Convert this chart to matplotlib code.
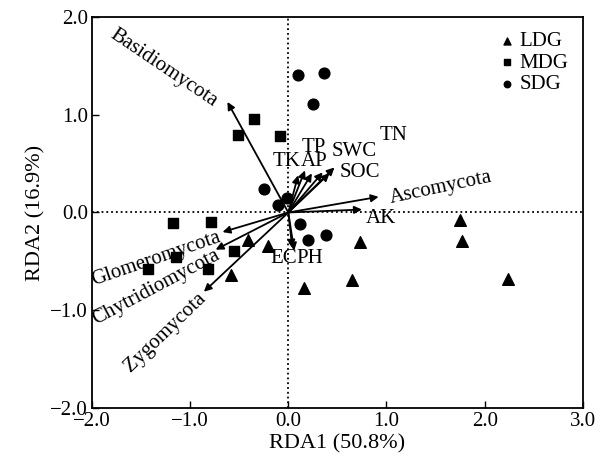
import matplotlib.pyplot as plt
import numpy as np

plt.rcParams['font.family'] = ['Liberation Serif', 'DejaVu Serif']

# sample scores
ldg_x = [-0.41, -0.21, -0.58, 0.16, 0.65, 0.73, 1.75, 1.77, 2.24]
ldg_y = [-0.28, -0.34, -0.64, -0.77, -0.69, -0.30, -0.08, -0.29, -0.68]
mdg_x = [-0.51, -0.35, -0.08, -1.17, -0.79, -1.14, -0.55, -1.43, -0.82]
mdg_y = [0.79, 0.96, 0.78, -0.11, -0.10, -0.46, -0.39, -0.58, -0.58]
sdg_x = [0.10, 0.36, 0.25, -0.25, -0.11, -0.01, 0.12, 0.20, 0.38]
sdg_y = [1.41, 1.43, 1.11, 0.24, 0.08, 0.15, -0.12, -0.28, -0.23]

# arrows (phyla + soil properties)
arrow_names = ['Basidiomycota', 'Ascomycota', 'AK', 'Glomeromycota', 'Chytridiomycota',
               'Zygomycota', 'EC', 'PH', 'TK', 'TP', 'AP', 'SWC', 'SOC', 'TN']
arrow_x = [-0.62, 0.92, 0.75, -0.67, -0.74, -0.86, 0.04, 0.06, 0.10, 0.17, 0.24, 0.35, 0.47, 0.42]
arrow_y = [1.13, 0.16, 0.03, -0.20, -0.38, -0.81, -0.36, -0.39, 0.38, 0.43, 0.40, 0.41, 0.46, 0.40]

# label placement
label_x = [-1.27, 1.55, 0.94, -1.35, -1.35, -1.25, 0.085, 0.085, 0.125, 0.26, 0.125, 0.67, 0.73, 1.07]
label_y = [1.48, 0.25, -0.06, -0.47, -0.77, -1.23, -0.47, -0.47, 0.52, 0.66, 0.52, 0.62, 0.41, 0.79]
label_rot = [-34, 12, 0, 19, 28, 44, 0, 0, 0, 0, 0, 0, 0, 0]
label_ha = ['center', 'center', 'center', 'center', 'center', 'center', 'right', 'left',
            'right', 'center', 'left', 'center', 'center', 'center']

fig, ax = plt.subplots(figsize=(6.09, 4.67), dpi=100)
fig.subplots_adjust(left=0.151, right=0.957, bottom=0.126, top=0.964)

ax.axhline(0, color='k', ls=':', lw=1.3, zorder=1)
ax.axvline(0, color='k', ls=':', lw=1.3, zorder=1)

for name, x, y in zip(arrow_names, arrow_x, arrow_y):
    ax.annotate('', xy=(x, y), xytext=(0, 0),
                arrowprops=dict(arrowstyle='-|>', color='k', lw=1.3,
                                mutation_scale=11, shrinkA=0, shrinkB=0))

for name, x, y, r, ha in zip(arrow_names, label_x, label_y, label_rot, label_ha):
    ax.text(x, y, name, rotation=r, fontsize=15, ha=ha, va='center',
            rotation_mode='anchor')

ax.scatter(ldg_x, ldg_y, marker='^', s=70, color='k', label='LDG', zorder=3)
ax.scatter(mdg_x, mdg_y, marker='s', s=60, color='k', label='MDG', zorder=3)
ax.scatter(sdg_x, sdg_y, marker='o', s=60, color='k', label='SDG', zorder=3)

ax.set_xlim(-2, 3)
ax.set_ylim(-2, 2)
ax.set_xticks(np.arange(-2, 3.1, 1))
ax.set_yticks(np.arange(-2, 2.1, 1))
ax.set_xticklabels(['\u22122.0', '\u22121.0', '0.0', '1.0', '2.0', '3.0'])
ax.set_yticklabels(['\u22122.0', '\u22121.0', '0.0', '1.0', '2.0'])
ax.tick_params(direction='in', length=5, width=1, labelsize=15, pad=3)
for s in ax.spines.values():
    s.set_linewidth(1.3)

ax.set_xlabel('RDA1 (50.8%)', fontsize=16, labelpad=2)
ax.set_ylabel('RDA2 (16.9%)', fontsize=16, labelpad=3)

ax.legend(loc='upper right', frameon=False, fontsize=15, markerscale=0.6,
          handletextpad=0.1, labelspacing=0.1, borderaxespad=0.3,
          handlelength=1.0)

plt.savefig('out.png', dpi=100)
